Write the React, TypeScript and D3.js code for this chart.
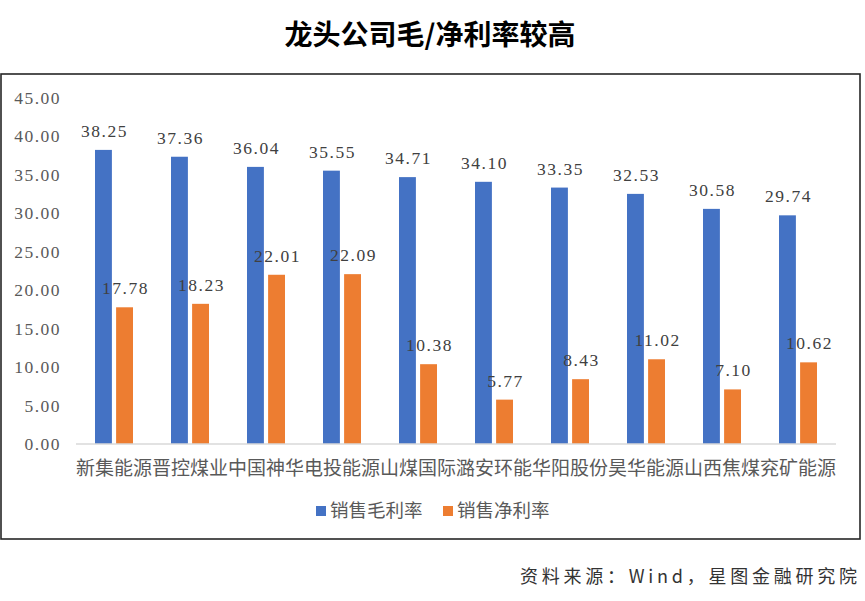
import React, { useEffect, useRef } from 'react'
import * as d3 from 'd3'

// chart data
const companies = [
    '新集能源',
    '晋控煤业',
    '中国神华',
    '电投能源',
    '山煤国际',
    '潞安环能',
    '华阳股份',
    '昊华能源',
    '山西焦煤',
    '兖矿能源'
]
const grossMargin = [38.25, 37.36, 36.04, 35.55, 34.71, 34.1, 33.35, 32.53, 30.58, 29.74]
const netMargin = [17.78, 18.23, 22.01, 22.09, 10.38, 5.77, 8.43, 11.02, 7.1, 10.62]
const seriesNames = ['销售毛利率', '销售净利率']
const seriesColors = ['#4472C4', '#ED7D31']
const yTicks = [0, 5, 10, 15, 20, 25, 30, 35, 40, 45]

const W = 865
const H = 601
const numFont = '"Liberation Serif", serif'
const cjkFont = '"Noto Sans CJK SC", sans-serif'

const App: React.FC = () => {
    const ref = useRef<any>()
    useEffect(() => {
        const svg = d3.select(ref.current)
        svg.selectAll('*').remove()

        const x = d3.scaleBand().domain(companies).range([76, 836])
        const inner = d3
            .scaleBand()
            .domain(seriesNames)
            .range([19, x.bandwidth() - 19])
            .paddingInner(0.2)
        const y = d3.scaleLinear().domain([0, 45]).range([444, 98])

        // title
        svg.append('text')
            .attr('x', 430)
            .attr('y', 45)
            .attr('text-anchor', 'middle')
            .attr('font-family', cjkFont)
            .attr('font-weight', 700)
            .attr('font-size', 28)
            .attr('fill', '#000')
            .text('龙头公司毛/净利率较高')

        // frame
        svg.append('rect')
            .attr('x', 1)
            .attr('y', 74)
            .attr('width', 859)
            .attr('height', 465)
            .attr('fill', 'none')
            .attr('stroke', '#262626')
            .attr('stroke-width', 1.6)

        // y tick labels
        svg.append('g')
            .selectAll('text')
            .data(yTicks)
            .join('text')
            .attr('x', 61)
            .attr('y', (d) => y(d) + 6)
            .attr('text-anchor', 'end')
            .attr('font-family', numFont)
            .attr('font-size', 17.5)
            .attr('letter-spacing', 1.5)
            .attr('fill', '#595959')
            .text((d) => d.toFixed(2))

        const series = [grossMargin, netMargin]
        series.forEach((vals, si) => {
            const g = svg.append('g')
            const rows = companies.map((c, i) => ({ c, v: vals[i] }))
            g.selectAll('rect')
                .data(rows)
                .join('rect')
                .attr('x', (d) => (x(d.c) as number) + (inner(seriesNames[si]) as number))
                .attr('y', (d) => y(d.v))
                .attr('width', inner.bandwidth())
                .attr('height', (d) => y(0) - y(d.v))
                .attr('fill', seriesColors[si])
            g.selectAll('text')
                .data(rows)
                .join('text')
                .attr(
                    'x',
                    (d) =>
                        (x(d.c) as number) +
                        (inner(seriesNames[si]) as number) +
                        inner.bandwidth() / 2 +
                        1
                )
                .attr('y', (d) => y(d.v) - 13)
                .attr('text-anchor', 'middle')
                .attr('font-family', numFont)
                .attr('font-size', 17.5)
                .attr('letter-spacing', 1.5)
                .attr('fill', '#404040')
                .text((d) => d.v.toFixed(2))
        })

        // x baseline
        svg.append('line')
            .attr('x1', 76)
            .attr('x2', 836)
            .attr('y1', y(0))
            .attr('y2', y(0))
            .attr('stroke', '#D9D9D9')
            .attr('stroke-width', 1.5)

        // category labels
        svg.append('g')
            .selectAll('text')
            .data(companies)
            .join('text')
            .attr('x', (d) => (x(d) as number) + x.bandwidth() / 2)
            .attr('y', 475)
            .attr('text-anchor', 'middle')
            .attr('font-family', cjkFont)
            .attr('font-size', 19)
            .attr('fill', '#595959')
            .text((d) => d)

        // legend
        const legendX = [316, 443]
        seriesNames.forEach((name, i) => {
            svg.append('rect')
                .attr('x', legendX[i])
                .attr('y', 506)
                .attr('width', 10)
                .attr('height', 10)
                .attr('fill', seriesColors[i])
            svg.append('text')
                .attr('x', legendX[i] + 14)
                .attr('y', 517)
                .attr('font-family', cjkFont)
                .attr('font-size', 18.5)
                .attr('fill', '#595959')
                .text(name)
        })

        // source
        svg.append('text')
            .attr('x', 520)
            .attr('y', 583)
            .attr('font-family', cjkFont)
            .attr('font-size', 18)
            .attr('fill', '#333')
            .attr('textLength', 337)
            .attr('lengthAdjust', 'spacing')
            .text('资料来源：Wind，星图金融研究院')
    }, [])
    return (
        <div style={{ position: 'absolute', left: 0, top: 0, width: W, height: H, background: '#fff' }}>
            <svg ref={ref} width={W} height={H} viewBox={`0 0 ${W} ${H}`}></svg>
        </div>
    )
}

export default App
